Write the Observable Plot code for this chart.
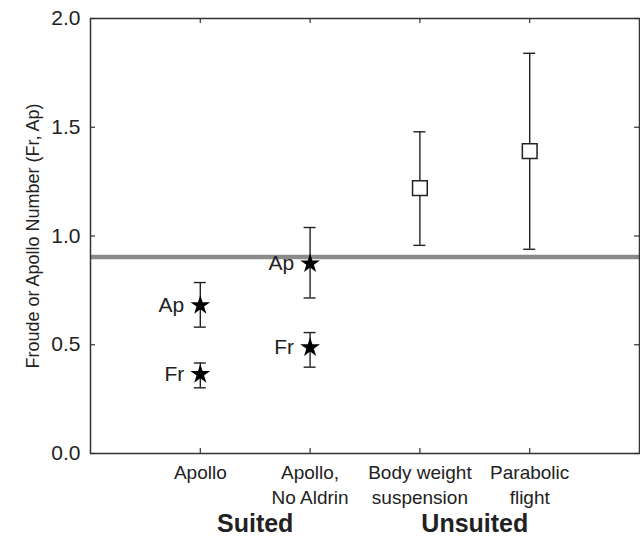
<!DOCTYPE html>
<html><head><meta charset="utf-8">
<script src="https://cdn.jsdelivr.net/npm/d3@7"></script>
<script src="https://cdn.jsdelivr.net/npm/@observablehq/plot@0.6"></script>
<style>body{margin:0;background:#fff}</style>
</head><body><div id="chart"></div>
<script>
// Categories and positions on the x axis
const categories = ["Apollo", "Apollo,\nNo Aldrin", "Body weight\nsuspension", "Parabolic\nflight"];
const catPositions = [1, 2, 3, 4];
// Suited (stars)
const starCat = [1, 1, 2, 2];
const starLabel = ["Ap", "Fr", "Ap", "Fr"];
const starValue = [0.681, 0.364, 0.873, 0.487];
const starLow = [0.581, 0.302, 0.715, 0.397];
const starHigh = [0.786, 0.416, 1.039, 0.556];
// Unsuited (squares)
const squareCat = [3, 4];
const squareValue = [1.22, 1.39];
const squareLow = [0.957, 0.939];
const squareHigh = [1.479, 1.84];
// Reference line
const threshold = [0.904];
// Group labels
const groupNames = ["Suited", "Unsuited"];
const groupCenters = [1.5, 3.5];
// Y ticks
const yTicks = [0, 0.5, 1, 1.5, 2];
const yLabel = "Froude or Apollo Number (Fr, Ap)";

const stars = starCat.map((c, i) => ({x: c, label: starLabel[i], v: starValue[i], lo: starLow[i], hi: starHigh[i]}));
const squares = squareCat.map((c, i) => ({x: c, v: squareValue[i], lo: squareLow[i], hi: squareHigh[i]}));
const all = stars.concat(squares);
const groups = groupNames.map((g, i) => ({x: groupCenters[i], name: g}));

const ink = "#222";
const chart = Plot.plot({
  width: 640,
  height: 537,
  marginLeft: 90,
  marginRight: 1,
  marginTop: 18,
  marginBottom: 84,
  x: {domain: [0, 5]},
  y: {domain: [0, 2]},
  style: {fontFamily: "'Liberation Sans', Arial, Helvetica, sans-serif", fontSize: "19px", color: ink, background: "#fff"},
  marks: [
    Plot.ruleY(threshold, {stroke: "#8a8a8a", strokeWidth: 4.5}),
    // error bars
    Plot.ruleX(all, {x: "x", y1: "lo", y2: "hi", stroke: ink, strokeWidth: 1.4}),
    Plot.ruleY(all, {y: "hi", x1: "x", x2: "x", insetLeft: -6, insetRight: -6, stroke: ink, strokeWidth: 1.4}),
    Plot.ruleY(all, {y: "lo", x1: "x", x2: "x", insetLeft: -6, insetRight: -6, stroke: ink, strokeWidth: 1.4}),
    Plot.dot(stars, {x: "x", y: "v", symbol: "star", r: 6.2, fill: "#000", stroke: "none"}),
    Plot.dot(squares, {x: "x", y: "v", symbol: "square", r: 8.3, fill: "#fff", stroke: ink, strokeWidth: 1.5}),
    Plot.text(stars, {x: "x", y: "v", text: "label", textAnchor: "end", dx: -16, fontSize: 21, fill: ink}),
    // frame and inward ticks
    Plot.frame({stroke: "#333", strokeWidth: 1.5}),
    Plot.ruleY(yTicks, {x1: 0, x2: 0, insetRight: -5, stroke: "#333", strokeWidth: 1.2}),
    Plot.ruleY(yTicks, {x1: 5, x2: 5, insetLeft: -5, stroke: "#333", strokeWidth: 1.2}),
    Plot.ruleX(catPositions, {y1: 2, y2: 2, insetBottom: -5, stroke: "#333", strokeWidth: 1.2}),
    Plot.ruleX(catPositions, {y1: 0, y2: 0, insetTop: -5, stroke: "#333", strokeWidth: 1.2}),
    // axes
    Plot.axisY({ticks: yTicks, tickSize: 0, tickPadding: 10, tickFormat: d3.format(".1f"), fontSize: 21, label: null}),
    Plot.axisX({ticks: catPositions, tickSize: 0, tickPadding: 8, tickFormat: d => categories[d - 1], fontSize: 19, lineHeight: 1.3, label: null}),
    Plot.text([yLabel], {text: d => d, frameAnchor: "left", textAnchor: "middle", lineAnchor: "middle", rotate: -90, dx: -57, fontSize: 18, fill: ink}),
    Plot.text(groups, {x: "x", text: "name", frameAnchor: "bottom", lineAnchor: "middle", dy: 70, fontSize: 25, fontWeight: "bold", fill: ink})
  ]
});
document.getElementById("chart").appendChild(chart);
</script>
</body></html>
